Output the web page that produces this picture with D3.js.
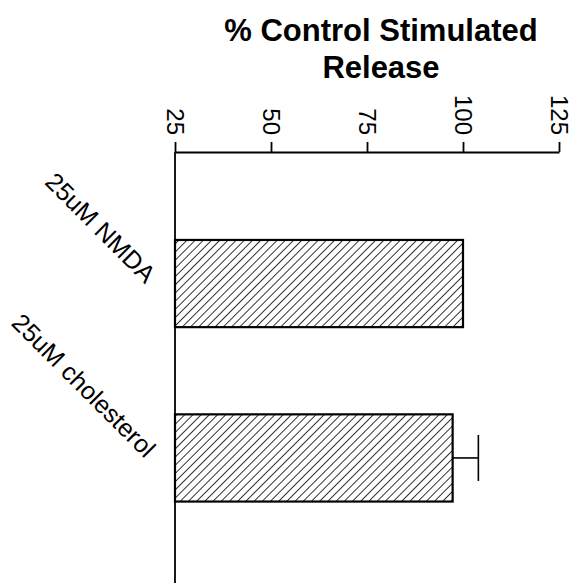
<!DOCTYPE html>
<html>
<head>
<meta charset="utf-8">
<script src="https://cdn.jsdelivr.net/npm/d3@7"></script>
<style>
  body { margin: 0; background: #fff; }
  svg { display: block; font-family: Arial, "Liberation Sans", sans-serif; }
</style>
</head>
<body>
<svg id="chart" width="584" height="584"></svg>
<script>
// values
var categories = ["25uM NMDA", "25uM cholesterol"];
var values = [100, 97.3];
var errors = [0, 6.7];
var tickValues = [25, 50, 75, 100, 125];
var titleLines = ["% Control Stimulated", "Release"];

var svg = d3.select('#chart');

var axisY = 152;
var x = d3.scaleLinear().domain([25, 125]).range([175, 559]);
var y = d3.scaleBand().domain(categories).range([152.75, 588.75]).padding(0.5);

// hatch fill
var defs = svg.append('defs');
defs.append('pattern')
	.attr('id', 'hatch')
	.attr('patternUnits', 'userSpaceOnUse')
	.attr('width', 5.8)
	.attr('height', 5.8)
	.attr('patternTransform', 'rotate(45)')
	.append('line')
	.attr('x1', 0).attr('y1', 0)
	.attr('x2', 0).attr('y2', 5.8)
	.attr('stroke', '#000')
	.attr('stroke-width', 1.6);

var data = categories.map(function(c, i){ return {cat: c, value: values[i], err: errors[i]} });

// bars
svg.selectAll('rect.bar').data(data).enter().append('rect')
	.attr('class', 'bar')
	.attr('x', x(25))
	.attr('y', function(d){ return y(d.cat) })
	.attr('width', function(d){ return x(d.value) - x(25) })
	.attr('height', y.bandwidth())
	.attr('fill', 'url(#hatch)')
	.attr('stroke', '#000')
	.attr('stroke-width', 2.2);

// error bars
var eb = svg.selectAll('g.err').data(data.filter(function(d){ return d.err > 0 })).enter().append('g')
	.attr('class', 'err');
eb.append('line')
	.attr('x1', function(d){ return x(d.value) })
	.attr('x2', function(d){ return x(d.value + d.err) })
	.attr('y1', function(d){ return y(d.cat) + y.bandwidth() / 2 })
	.attr('y2', function(d){ return y(d.cat) + y.bandwidth() / 2 })
	.attr('stroke', '#000').attr('stroke-width', 1.6);
eb.append('line')
	.attr('x1', function(d){ return x(d.value + d.err) })
	.attr('x2', function(d){ return x(d.value + d.err) })
	.attr('y1', function(d){ return y(d.cat) + y.bandwidth() / 2 - 23 })
	.attr('y2', function(d){ return y(d.cat) + y.bandwidth() / 2 + 23 })
	.attr('stroke', '#000').attr('stroke-width', 1.6);

// top axis
var axis = d3.axisTop(x).tickValues(tickValues).tickSize(10).tickSizeOuter(0);
var gx = svg.append('g')
	.attr('transform', 'translate(0,' + axisY + ')')
	.call(axis);
gx.select('.domain').attr('stroke-width', 1.8);
gx.selectAll('.tick line').attr('stroke-width', 1.8);
gx.selectAll('.tick text')
	.attr('font-size', 24)
	.attr('fill', '#000')
	.attr('transform', 'rotate(90)')
	.attr('y', 0)
	.attr('dy', '0.35em')
	.attr('text-anchor', 'end')
	.attr('x', -17);

// left axis line
svg.append('line')
	.attr('x1', x(25)).attr('x2', x(25))
	.attr('y1', axisY).attr('y2', 583)
	.attr('stroke', '#000').attr('stroke-width', 1.8);

// category labels
svg.selectAll('text.cat').data(categories).enter().append('text')
	.attr('class', 'cat')
	.attr('text-anchor', 'end')
	.attr('font-size', 25)
	.attr('transform', function(d){
		return 'translate(' + (x(25) - 30) + ',' + (y(d) + y.bandwidth() / 2 + 1) + ') rotate(45)';
	})
	.text(function(d){ return d });

// title
svg.append('text')
	.attr('text-anchor', 'middle')
	.attr('font-size', 31)
	.attr('font-weight', 'bold')
	.selectAll('tspan').data(titleLines).enter().append('tspan')
	.attr('x', 381)
	.attr('y', function(d, i){ return 41 + i * 37 })
	.text(function(d){ return d });
</script>
</body>
</html>
